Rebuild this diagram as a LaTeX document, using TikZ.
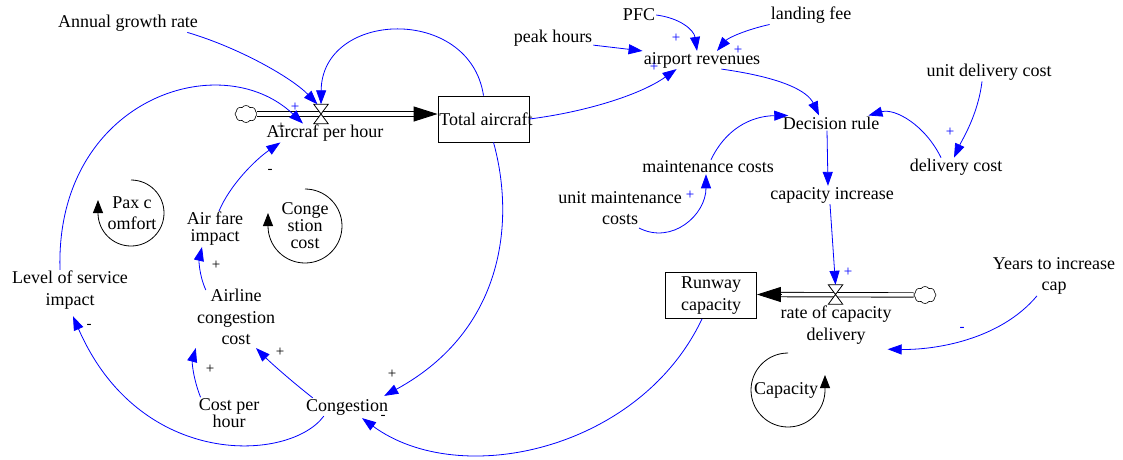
\documentclass[tikz,border=0pt]{standalone}
\usepackage{fontspec}
\setmainfont{Liberation Serif}
\usetikzlibrary{arrows.meta,shapes.symbols,calc}
\definecolor{linkblue}{RGB}{0,0,255}
\newcommand\vfont{\fontsize{18}{21.5}\selectfont}
\newcommand\tightfont{\fontsize{18}{17}\selectfont}
\newcommand\pfont{\fontsize{15}{15}\selectfont}

\begin{document}
\begin{tikzpicture}[x=1pt,y=-1pt,
  var/.style={inner sep=1pt, font=\vfont, align=center},
  stock/.style={draw, line width=0.8pt, inner sep=0pt, minimum width=91pt,
    minimum height=46pt, font=\vfont, align=center},
  infl/.style={linkblue, line width=0.8pt, -{Triangle[length=14pt,width=10pt]}},
  pipe/.style={draw=black, double=white, double distance=3.5pt, line width=0.9pt},
  pipetip/.style={-{Triangle[length=24pt,width=15pt]}, line width=0.9pt},
  valvebox/.style={minimum width=14pt, minimum height=19pt, inner sep=0pt},
  valveshape/.style={draw, fill=white, line width=0.8pt},
  sink/.style={cloud, draw, cloud puffs=8, cloud puff arc=110, aspect=1.3,
    minimum width=22pt, minimum height=17pt, inner sep=0pt, line width=0.6pt},
  loopy/.style={line width=0.8pt, -{Triangle[length=13pt,width=10pt]}},
  pol/.style={font=\pfont, inner sep=0pt},
  bpol/.style={pol, text=linkblue},
]
\useasboundingbox (0,0) rectangle (1123,459);

% ---- stocks ----
\node[stock] (ta) at (483.5,119) {\makebox[91pt][c]{\hspace{5pt}Total aircraft}};
\node[stock] (rc) at (711,295.5) {Runway\\capacity};

% ---- flows: sources, valves, pipes ----
\node[sink] (cl1) at (246,114) {};
\node[valvebox] (v1) at (321,114) {};
\node[sink] (cl2) at (925,295) {};
\node[valvebox] (v2) at (835.5,294.5) {};

\draw[pipe, shorten >=22pt] (cl1) -- (ta.west |- cl1);
\draw[pipetip] ($(ta.west |- cl1)+(-24,0)$) -- (ta.west |- cl1);
\draw[pipe, shorten >=23pt] (cl2) -- (rc.east |- v2);
\draw[pipetip] ($(rc.east |- v2)+(25,0)$) -- (rc.east |- v2);

\draw[valveshape] (v1.north west) -- (v1.north east) -- (v1.south west) -- (v1.south east) -- cycle;
\draw[valveshape] (v2.north west) -- (v2.north east) -- (v2.south west) -- (v2.south east) -- cycle;

% ---- auxiliary variables ----
\node[var] (agr) at (128,23) {Annual growth rate};
\node[var] (aph) at (325,133) {Aircraf per hour};
\node[var] (pfc) at (639,15) {PFC};
\node[var] (lf) at (811,15) {landing fee};
\node[var] (ph) at (553,38) {peak hours};
\node[var] (ar) at (702,60) {airport revenues};
\node[var] (dr) at (831,123) {Decision rule};
\node[var] (udc) at (989,72) {unit delivery cost};
\node[var] (dc) at (956,167) {delivery cost};
\node[var] (mc) at (708,167) {maintenance costs};
\node[var] (umc) at (620,208) {unit maintenance\\costs};
\node[var] (ci) at (832,195) {capacity increase};
\node[var] (rcd) at (836,325) {rate of capacity\\delivery};
\node[var] (yic) at (1054,276) {Years to increase\\cap};
\node[var] (cong) at (347,407) {Congestion};
\node[var] (losi) at (70,290) {Level of service\\impact};
\node[var, font=\tightfont] (afi) at (215,229) {Air fare\\impact};
\node[var] (acc) at (236,317) {Airline\\congestion\\cost};
\node[var, font=\tightfont] (cph) at (229,413) {Cost per\\hour};

% ---- loop markers ----
\node[var] (paxc) at (132,213) {Pax c\\omfort};
\draw[loopy] ($(paxc)+(-1,-33)$) arc[start angle=-90, end angle=180, radius=33] -- ++(0,-13);
\node[var, font=\tightfont] (ccl) at (305,226) {Conge\\stion\\cost};
\draw[loopy] ($(ccl)+(0,-37)$) arc[start angle=-90, end angle=180, radius=37] -- ++(0,-13);
\node[var] (capl) at (786,390) {Capacity};
\draw[loopy] ($(capl)+(2,-37)$) arc[start angle=-90, end angle=-360, radius=37] -- ++(0,-15);

% ---- causal links ----
\draw[infl] (agr.-9) .. controls (240,48) and (292,78) .. (v1.110);
\draw[infl] (ta.north) .. controls (470,5) and (322,10) .. (v1.north);
\draw[infl] ($(losi.north)+(-10,0)$) .. controls (55,100) and (220,45) .. ($(aph.north)+(-22,0)$);
\draw[infl] ($(afi.north)+(4,0)$) .. controls (230,185) and (255,160) .. ($(aph.south west)+(15,0)$);
\draw[infl] ($(acc.north west)+(10,2)$) .. controls (199,275) and (199,260) .. ($(afi.south)+(-13,0)$);
\draw[infl] ($(cph.north west)+(3,0)$) .. controls (193,378) and (192,362) .. ($(acc.south west)+(0,2)$);
\draw[infl] ($(cong.north west)+(8,0)$) .. controls (290,380) and (270,362) .. ($(acc.south)+(20,2)$);
\draw[infl] ($(ta.south)+(10,0)$) .. controls (515,220) and (505,330) .. ($(cong.north east)+(-5,-2)$);
\draw[infl] ($(cong.south west)+(19,0)$) .. controls (290,462) and (140,470) .. ($(losi.south)+(3,6)$);
\draw[infl] ($(rc.south)+(-9,0)$) .. controls (640,450) and (460,490) .. ($(cong.south)+(15,2)$);
\draw[infl] (ta.east) .. controls (585,112) and (640,95) .. ($(ar.south west)+(34,0)$);
\draw[infl] (ph.-10) -- (ar.north west);
\draw[infl] (pfc.east) .. controls (680,18) and (694,30) .. ($(ar.north)+(-5,0)$);
\draw[infl] (lf.south west) .. controls (745,30) and (728,38) .. ($(ar.north)+(15,0)$);
\draw[infl] (ar.-25) .. controls (785,78) and (808,92) .. ($(dr.north)+(-12,0)$);
\draw[infl] ($(mc.north)+(3,0)$) .. controls (725,130) and (750,116) .. (dr.170);
\draw[infl] ($(umc.south)+(19,2)$) .. controls (672,245) and (706,215) .. ($(mc.south)+(-2,0)$);
\draw[infl] ($(udc.south)+(-7,0)$) .. controls (978,115) and (962,140) .. ($(dc.north)+(-2,0)$);
\draw[infl] ($(dc.north)+(-15,0)$) .. controls (925,125) and (895,108) .. ($(dr.north east)+(-12,0)$);
\draw[infl] ($(dr.south)+(-4,0)$) -- ($(ci.north)+(-4,0)$);
\draw[infl] ($(ci.south)+(-2,0)$) -- (v2.north);
\draw[infl] ($(yic.south)+(-17,0)$) .. controls (1000,340) and (935,350) .. ($(rcd.south east)+(-5,4)$);

% ---- link polarities ----
\node[bpol] (p1) at (295,107) {+};
\node[pol] (p2) at (281,127) {+};
\node[pol] (p3) at (270,171) {-};
\node[pol] (p4) at (216,265) {+};
\node[pol] (p5) at (210,369) {+};
\node[pol] (p6) at (280,352) {+};
\node[pol] (p7) at (392,374) {+};
\node[pol] (p8) at (383,417) {-};
\node[pol] (p9) at (89,326) {-};
\node[bpol] (p10) at (676,38) {+};
\node[bpol] (p11) at (738,50) {+};
\node[bpol] (p12) at (654,67) {+};
\node[bpol] (p13) at (690,195) {+};
\node[bpol] (p14) at (950,132) {+};
\node[bpol] (p15) at (848,272) {+};
\node[bpol] (p16) at (962,329) {-};
\end{tikzpicture}
\end{document}
